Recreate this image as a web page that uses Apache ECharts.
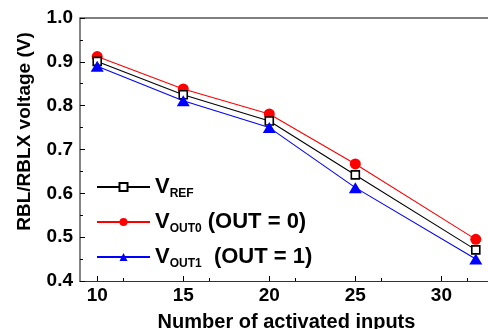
<!DOCTYPE html>
<html>
<head>
<meta charset="utf-8">
<script src="https://cdn.jsdelivr.net/npm/echarts@6/dist/echarts.min.js"></script>
<style>
  html, body { margin: 0; padding: 0; background: #fff; }
  #chart { width: 488px; height: 329px; }
</style>
</head>
<body>
<div id="chart"></div>
<script>
// Number of activated inputs on the x axis
const inputs = [10, 15, 20, 25, 32];
// Bit-line voltages (V)
const vRef  = [0.901, 0.825, 0.765, 0.642, 0.471];
const vOut0 = [0.912, 0.838, 0.781, 0.667, 0.495];
const vOut1 = [0.890, 0.811, 0.750, 0.613, 0.450];
// Labelled ticks on the x axis
const xTicks = [10, 15, 20, 25, 30];

const FONT = '"Liberation Sans", Arial, sans-serif';

const pairs = arr => inputs.map((x, i) => [x, arr[i]]);

const chart = echarts.init(document.getElementById('chart'));
chart.setOption({
  animation: false,
  textStyle: { fontFamily: FONT },
  grid: { left: 80, right: -5, top: 18, bottom: 48, containLabel: false, outerBoundsMode: 'none' },
  xAxis: {
    type: 'value', min: 9, max: 33, interval: 5,
    axisLine: { show: true, onZero: false, lineStyle: { color: '#333', width: 1.2 } },
    axisTick: { inside: true, length: 5, lineStyle: { color: '#000' }, customValues: xTicks },
    minorTick: { show: true, splitNumber: 2, length: 3, lineStyle: { color: '#000' } },
    splitLine: { show: false },
    axisLabel: { color: '#000', fontSize: 19, fontWeight: 'bold', margin: 5, customValues: xTicks },
    name: 'Number of activated inputs', nameLocation: 'middle', nameGap: 31,
    nameTextStyle: { color: '#000', fontSize: 20, fontWeight: 'bold' }
  },
  yAxis: {
    type: 'value', min: 0.4, max: 1.0, interval: 0.1,
    axisLine: { show: true, lineStyle: { color: '#777', width: 1.8 } },
    axisTick: { inside: true, length: 5, lineStyle: { color: '#000' } },
    minorTick: { show: true, splitNumber: 2, length: 3, lineStyle: { color: '#000' } },
    splitLine: { show: false },
    axisLabel: { color: '#000', fontSize: 19, fontWeight: 'bold', margin: 7,
                 formatter: v => v.toFixed(1) },
    name: 'RBL/RBLX voltage (V)', nameLocation: 'middle', nameGap: 46,
    nameTextStyle: { color: '#000', fontSize: 19, fontWeight: 'bold', padding: [0, 0, 0, 36] }
  },
  legend: {
    orient: 'vertical', left: 96, top: 176, padding: 0,
    itemWidth: 53, itemHeight: 10, itemGap: 11,
    data: ['ref', 'out0', 'out1'],
    textStyle: {
      color: '#000', fontFamily: FONT,
      rich: {
        v: { fontSize: 22, fontWeight: 'bold', color: '#000', fontFamily: FONT },
        s: { fontSize: 12, fontWeight: 'bold', color: '#000', fontFamily: FONT, padding: [14, 0, 0, 0] },
        t: { fontSize: 22, fontWeight: 'bold', color: '#000', fontFamily: FONT }
      }
    },
    formatter: name => ({
      ref: '{v|V}{s|REF}',
      out0: '{v|V}{s|OUT0}{t| (OUT = 0)}',
      out1: '{v|V}{s|OUT1}{t|  (OUT = 1)}'
    })[name]
  },
  series: [
    {
      name: 'ref', type: 'line', data: pairs(vRef),
      symbol: 'rect', symbolSize: 8,
      lineStyle: { color: '#000', width: 1.1 },
      itemStyle: { color: '#fff', borderColor: '#000', borderWidth: 1.6 },
      z: 3
    },
    {
      name: 'out0', type: 'line', data: pairs(vOut0),
      symbol: 'circle', symbolSize: 11,
      lineStyle: { color: '#f00', width: 1.1 },
      itemStyle: { color: '#f00' },
      z: 2
    },
    {
      name: 'out1', type: 'line', data: pairs(vOut1),
      symbol: 'triangle', symbolSize: [13, 11],
      lineStyle: { color: '#00f', width: 1.1 },
      itemStyle: { color: '#00f' },
      z: 4
    }
  ]
});

// top frame line of the plot area
const grid = chart.getModel().getComponent('grid').coordinateSystem.getRect();
chart.setOption({
  graphic: [{
    type: 'line', silent: true,
    shape: { x1: grid.x, y1: grid.y, x2: grid.x + grid.width, y2: grid.y },
    style: { stroke: '#000', lineWidth: 1.2 }
  }]
});
</script>
</body>
</html>
